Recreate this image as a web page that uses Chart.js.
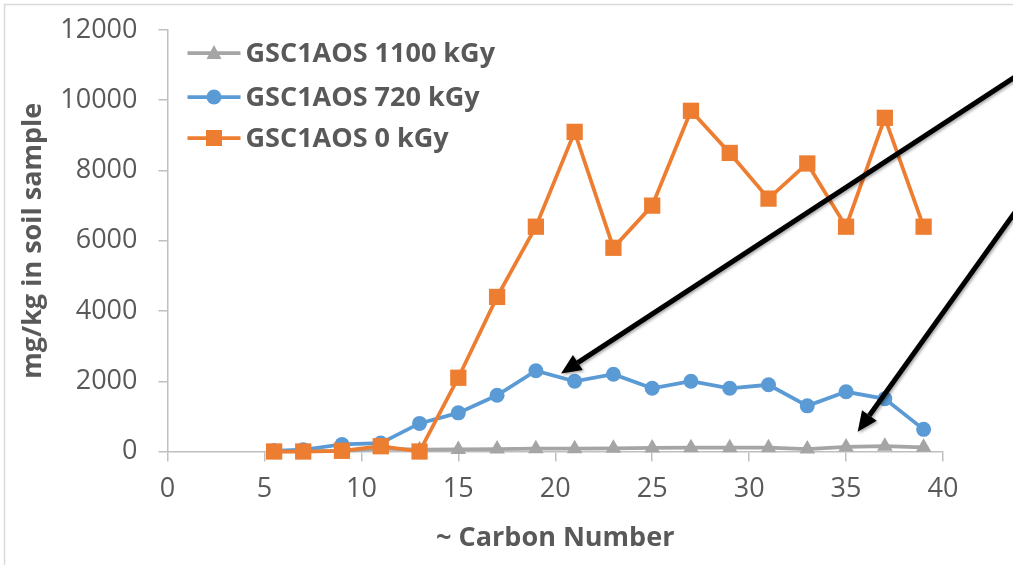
<!DOCTYPE html>
<html>
<head>
    <meta charset="utf-8">
    <title>Carbon Number chart</title>
    <style>
        body { margin: 0; background: #fff; }
        #wrap { width: 1013px; height: 565px; position: relative; }
    </style>
</head>
<body>
    <div id="wrap">
        <canvas id="myChart"></canvas>
    </div>
    <script src="https://cdn.jsdelivr.net/npm/chart.js"></script>
    <script>
        // ~ carbon number (x) and mg/kg in soil sample (y)
        const carbon = [5.5, 7, 9, 11, 13, 15, 17, 19, 21, 23, 25, 27, 29, 31, 33, 35, 37, 39];
        const gy1100 = [0, 10, 20, 80, 50, 60, 70, 80, 80, 90, 100, 110, 110, 110, 70, 130, 150, 120];
        const gy720 = [20, 50, 200, 240, 800, 1100, 1600, 2300, 2000, 2200, 1800, 2000, 1800, 1900, 1300, 1700, 1500, 630];
        const gy0 = [0, 0, 20, 150, 0, 2100, 4400, 6400, 9100, 5800, 7000, 9700, 8500, 7200, 8200, 6400, 9500, 6400];

        const seriesNames = ['GSC1AOS 1100 kGy', 'GSC1AOS 720 kGy', 'GSC1AOS 0 kGy'];

        // arrows: tail -> tip, in data units
        const arrowTails = [[44.5, 10950], [44.5, 7420]];
        const arrowTips = [[20.3, 2220], [35.6, 560]];

        const textColor = '#595959';
        const axisColor = '#BFBFBF';

        const toPoints = (ys) => carbon.map((x, i) => ({x: x, y: ys[i]}));

        const legendPlugin = {
            id: 'insideLegend',
            afterDraw(chart) {
                const ctx = chart.ctx;
                const area = chart.chartArea;
                const rows = [23, 67, 108];
                ctx.save();
                chart.data.datasets.forEach((ds, i) => {
                    const y = area.top + rows[i];
                    const x0 = area.left + 20;
                    const x1 = area.left + 73;
                    ctx.strokeStyle = ds.borderColor;
                    ctx.lineWidth = ds.borderWidth;
                    ctx.beginPath();
                    ctx.moveTo(x0, y);
                    ctx.lineTo(x1, y);
                    ctx.stroke();
                    const mx = (x0 + x1) / 2;
                    ctx.fillStyle = ds.backgroundColor;
                    ctx.beginPath();
                    if (ds.pointStyle === 'triangle') {
                        ctx.moveTo(mx, y - 8);
                        ctx.lineTo(mx + 7.5, y + 6);
                        ctx.lineTo(mx - 7.5, y + 6);
                        ctx.closePath();
                    } else if (ds.pointStyle === 'rect') {
                        ctx.rect(mx - 8, y - 8, 16, 16);
                    } else {
                        ctx.arc(mx, y, 7.5, 0, Math.PI * 2);
                    }
                    ctx.fill();
                    ctx.fillStyle = textColor;
                    ctx.font = 'bold 27px "Open Sans"';
                    ctx.textBaseline = 'middle';
                    ctx.fillText(ds.label, x1 + 5, y + 1);
                });
                ctx.restore();
            }
        };

        const arrowPlugin = {
            id: 'arrows',
            afterDatasetsDraw(chart) {
                const ctx = chart.ctx;
                const xs = chart.scales.x;
                const ys = chart.scales.y;
                ctx.save();
                arrowTails.forEach((tail, i) => {
                    const tip = arrowTips[i];
                    const x0 = xs.getPixelForValue(tail[0]);
                    const y0 = ys.getPixelForValue(tail[1]);
                    const x1 = xs.getPixelForValue(tip[0]);
                    const y1 = ys.getPixelForValue(tip[1]);
                    const ang = Math.atan2(y1 - y0, x1 - x0);
                    const headLen = 20, headW = 9;
                    const bx = x1 - headLen * Math.cos(ang);
                    const by = y1 - headLen * Math.sin(ang);
                    ctx.shadowColor = 'rgba(0,0,0,0.35)';
                    ctx.shadowBlur = 3;
                    ctx.shadowOffsetX = 1.5;
                    ctx.shadowOffsetY = 1.5;
                    ctx.strokeStyle = '#000';
                    ctx.lineWidth = 5;
                    ctx.beginPath();
                    ctx.moveTo(x0, y0);
                    ctx.lineTo(bx, by);
                    ctx.stroke();
                    ctx.fillStyle = '#000';
                    ctx.beginPath();
                    ctx.moveTo(x1, y1);
                    ctx.lineTo(bx + headW * Math.sin(ang), by - headW * Math.cos(ang));
                    ctx.lineTo(bx - headW * Math.sin(ang), by + headW * Math.cos(ang));
                    ctx.closePath();
                    ctx.fill();
                });
                ctx.restore();
            }
        };

        const framePlugin = {
            id: 'frame',
            beforeDraw(chart) {
                const ctx = chart.ctx;
                ctx.save();
                ctx.fillStyle = '#fff';
                ctx.fillRect(0, 0, chart.width, chart.height);
                ctx.strokeStyle = '#D9D9D9';
                ctx.lineWidth = 1.5;
                ctx.strokeRect(4.5, 4.5, chart.width + 20, chart.height + 20);
                ctx.restore();
            }
        };

        const data = {
            datasets: [
                {
                    label: seriesNames[0],
                    data: toPoints(gy1100),
                    borderColor: '#A5A5A5',
                    backgroundColor: '#A5A5A5',
                    borderWidth: 3.75,
                    pointStyle: 'triangle',
                    pointRadius: 9,
                    pointBorderWidth: 0,
                    clip: false,
                    order: 2
                },
                {
                    label: seriesNames[1],
                    data: toPoints(gy720),
                    borderColor: '#5B9BD5',
                    backgroundColor: '#5B9BD5',
                    borderWidth: 3.75,
                    pointStyle: 'circle',
                    pointRadius: 7.5,
                    pointBorderWidth: 0,
                    clip: false,
                    order: 1
                },
                {
                    label: seriesNames[2],
                    data: toPoints(gy0),
                    borderColor: '#ED7D31',
                    backgroundColor: '#ED7D31',
                    borderWidth: 3.75,
                    pointStyle: 'rect',
                    pointRadius: 11.5,
                    pointBorderWidth: 0,
                    clip: false,
                    order: 0
                }
            ]
        };

        const tickFont = {family: 'Open Sans', size: 27};
        const titleFont = {family: 'Open Sans', size: 27, weight: 'bold'};

        const config = {
            type: 'scatter',
            data: data,
            plugins: [framePlugin, arrowPlugin, legendPlugin],
            options: {
                responsive: true,
                maintainAspectRatio: false,
                animation: false,
                layout: {padding: {left: 0, top: 30, right: 70, bottom: 0}},
                plugins: {legend: {display: false}, tooltip: {enabled: false}},
                elements: {line: {tension: 0}},
                datasets: {scatter: {showLine: true}},
                scales: {
                    x: {
                        type: 'linear',
                        min: 0,
                        max: 40,
                        afterFit: (s) => { s.height = 113.5; s.paddingLeft = 0; s.paddingRight = 0; },
                        ticks: {stepSize: 5, color: textColor, font: tickFont, padding: 12},
                        grid: {drawOnChartArea: false, tickLength: 10, color: axisColor, lineWidth: 1.5},
                        border: {color: axisColor, width: 1.5},
                        title: {display: true, text: '~ Carbon Number', color: textColor, font: titleFont, padding: {top: 0, bottom: 10}}
                    },
                    y: {
                        min: 0,
                        max: 12000,
                        afterFit: (s) => { s.width = 167.5; s.paddingTop = 0; s.paddingBottom = 0; },
                        ticks: {stepSize: 2000, color: textColor, font: tickFont, padding: 21,
                            callback: (v) => String(v)},
                        grid: {drawOnChartArea: false, tickLength: 9, color: axisColor, lineWidth: 1.5},
                        border: {color: axisColor, width: 1.5},
                        title: {display: true, text: 'mg/kg in soil sample', color: textColor, font: titleFont, padding: {top: 17, bottom: 0}}
                    }
                }
            }
        };

        const myChart = new Chart(document.getElementById('myChart'), config);
    </script>
</body>
</html>
